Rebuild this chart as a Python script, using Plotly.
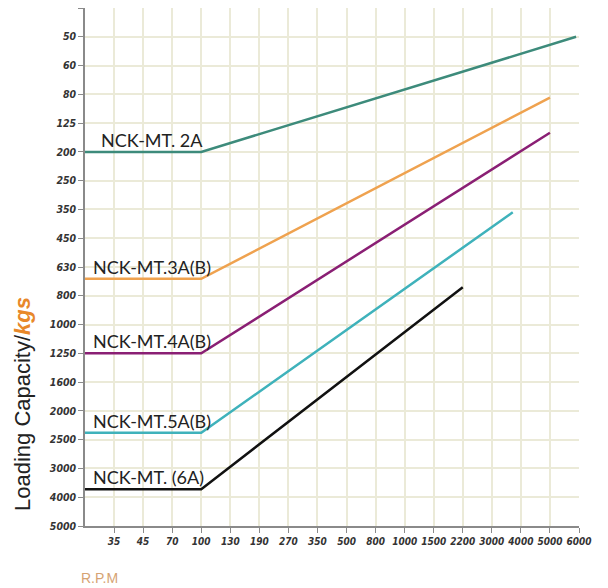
import numpy as np
import plotly.graph_objects as go

# Axis tick labels (category-like scales)
X_TICKS = [35, 45, 70, 100, 130, 190, 270, 350, 500, 800, 1000, 1500, 2200, 3000, 4000, 5000, 6000]
Y_TICKS = [50, 60, 80, 125, 200, 250, 350, 450, 630, 800, 1000, 1250, 1600, 2000, 2500, 3000, 4000, 5000]

# Series: (rpm, kgs) points
names = ["NCK-MT. 2A", "NCK-MT.3A(B)", "NCK-MT.4A(B)", "NCK-MT.5A(B)", "NCK-MT. (6A)"]
rpm_2a = [0, 100, 5900]
kgs_2a = [200, 200, 50]
rpm_3a = [0, 100, 5000]
kgs_3a = [700, 700, 85]
rpm_4a = [0, 100, 5000]
kgs_4a = [1250, 1250, 150]
rpm_5a = [0, 100, 3720]
kgs_5a = [2380, 2380, 360]
rpm_6a = [0, 100, 2200]
kgs_6a = [3720, 3720, 750]
colors = ["#3d8b7b", "#efa24f", "#8a1f74", "#3fb2bb", "#111111"]

series_rpm = [rpm_2a, rpm_3a, rpm_4a, rpm_5a, rpm_6a]
series_kgs = [kgs_2a, kgs_3a, kgs_4a, kgs_5a, kgs_6a]

# Scale mapping: ticks are evenly spaced
x_vals = [0] + X_TICKS
x_pos = list(range(len(x_vals)))
y_pos = list(range(1, len(Y_TICKS) + 1))


def xmap(v):
    return np.interp(v, x_vals, x_pos)


def ymap(v):
    return np.interp(v, Y_TICKS, y_pos)


fig = go.Figure()
for r, k, c in zip(series_rpm, series_kgs, colors):
    fig.add_trace(go.Scatter(x=xmap(r), y=ymap(k), mode="lines",
                             line=dict(color=c, width=2.5), showlegend=False,
                             hoverinfo="skip", cliponaxis=False))

label_shift = [14, 6, 6, 6, 6]
for n, k, s in zip(names, series_kgs, label_shift):
    fig.add_annotation(x=0, y=float(ymap(k[0])), text=n, showarrow=False,
                       xanchor="left", yanchor="bottom", xshift=s, yshift=-1,
                       font=dict(family="Lato, Open Sans, sans-serif", size=18, color="#222"))

xtickfont = dict(family="DejaVu Sans Condensed, Liberation Sans Narrow, sans-serif",
                 size=10, color="#333", weight="bold", style="italic")
ytickfont = dict(family="DejaVu Sans Condensed, Liberation Sans Narrow, sans-serif",
                 size=10.5, color="#333", weight="bold", style="italic")
grid = "#ebead8"
axis_col = "#8a8a8a"

fig.update_xaxes(range=[0, 17], tickmode="array", tickvals=x_pos[1:],
                 ticktext=[str(v) for v in X_TICKS], showgrid=True, gridcolor=grid,
                 gridwidth=1.5, showline=True, linecolor=axis_col, linewidth=1.5,
                 ticks="outside", ticklen=5, tickcolor=axis_col, tickfont=xtickfont,
                 tickangle=0, automargin=False, zeroline=False, fixedrange=True)
fig.update_yaxes(range=[18, 0], tickmode="array", tickvals=[0] + y_pos,
                 ticktext=[""] + [str(v) for v in Y_TICKS], showgrid=True, gridcolor=grid,
                 gridwidth=1.5, showline=True, linecolor=axis_col, linewidth=1.5,
                 ticks="outside", ticklen=5, tickcolor=axis_col, tickfont=ytickfont,
                 automargin=False, zeroline=False, fixedrange=True)

fig.add_annotation(xref="paper", yref="paper", x=-0.1275, y=0.2355, textangle=-90,
                   showarrow=False, xanchor="center", yanchor="middle",
                   text="Loading Capacity/<b><i><span style='color:#e8882a'>kgs</span></i></b>",
                   font=dict(family="Liberation Sans, Arial, sans-serif", size=22, color="#222"))
fig.add_annotation(xref="paper", yref="paper", x=0.030, y=-0.100, showarrow=False,
                   xanchor="center", yanchor="middle", text="R.P.M",
                   font=dict(family="Liberation Sans, Arial, sans-serif", size=14, color="#d6a373"))

# page body adds an 8px offset, so the figure is sized/margined to compensate
fig.update_layout(width=600, height=580, margin=dict(l=77, r=29, t=0, b=62),
                  plot_bgcolor="white", paper_bgcolor="white")
fig.write_html("out.html")
